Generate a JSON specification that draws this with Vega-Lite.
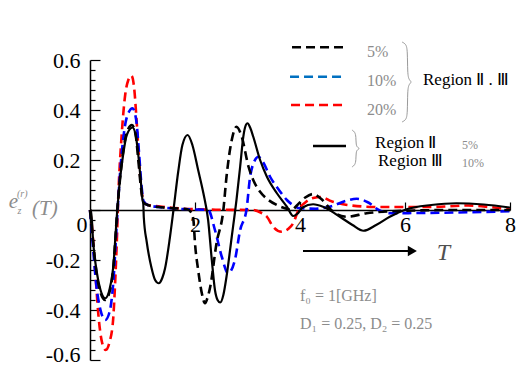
{
  "$schema": "https://vega.github.io/schema/vega-lite/v6.json",
  "width": 420,
  "height": 300,
  "autosize": "none",
  "padding": {"left": 90, "top": 60, "right": 11, "bottom": 7},
  "background": "white",
  "config": {
    "view": {"stroke": null},
    "axis": {"grid": false, "domainColor": "black", "tickColor": "black", "labelColor": "black", "labelFont": "Liberation Serif", "labelFontSize": 22, "title": null}
  },
  "datasets": {
    "curves": [
      {"s":"20%","x":0,"y":0},{"s":"20%","x":0.03,"y":-0.05},{"s":"20%","x":0.095,"y":-0.23},{"s":"20%","x":0.16,"y":-0.42},{"s":"20%","x":0.23,"y":-0.53},{"s":"20%","x":0.3,"y":-0.56},{"s":"20%","x":0.37,"y":-0.53},{"s":"20%","x":0.44,"y":-0.44},{"s":"20%","x":0.47,"y":-0.33},{"s":"20%","x":0.51,"y":-0.13},{"s":"20%","x":0.54,"y":0.06},{"s":"20%","x":0.6,"y":0.29},{"s":"20%","x":0.67,"y":0.46},{"s":"20%","x":0.73,"y":0.52},{"s":"20%","x":0.79,"y":0.537},{"s":"20%","x":0.84,"y":0.49},{"s":"20%","x":0.89,"y":0.35},{"s":"20%","x":0.95,"y":0.15},{"s":"20%","x":1.02,"y":0.033},{"s":"20%","x":1.1,"y":0.02},{"s":"20%","x":1.3,"y":0.015},{"s":"20%","x":1.6,"y":0.008},{"s":"20%","x":2.0,"y":0.003},{"s":"20%","x":2.5,"y":0.001},{"s":"20%","x":3.1,"y":0},{"s":"20%","x":3.25,"y":-0.01},{"s":"20%","x":3.37,"y":-0.027},{"s":"20%","x":3.49,"y":-0.067},{"s":"20%","x":3.65,"y":-0.087},{"s":"20%","x":3.78,"y":-0.075},{"s":"20%","x":3.87,"y":-0.053},{"s":"20%","x":3.97,"y":0},{"s":"20%","x":4.1,"y":0.03},{"s":"20%","x":4.25,"y":0.048},{"s":"20%","x":4.4,"y":0.052},{"s":"20%","x":4.6,"y":0.035},{"s":"20%","x":4.9,"y":0.02},{"s":"20%","x":5.5,"y":0.012},{"s":"20%","x":6.5,"y":0.012},{"s":"20%","x":7.2,"y":0.018},{"s":"20%","x":7.6,"y":0.012},{"s":"20%","x":8,"y":0.002},

      {"s":"10%","x":0,"y":0},{"s":"10%","x":0.05,"y":-0.13},{"s":"10%","x":0.12,"y":-0.3},{"s":"10%","x":0.2,"y":-0.4},{"s":"10%","x":0.29,"y":-0.44},{"s":"10%","x":0.37,"y":-0.41},{"s":"10%","x":0.44,"y":-0.3},{"s":"10%","x":0.52,"y":-0.02},{"s":"10%","x":0.57,"y":0.14},{"s":"10%","x":0.63,"y":0.28},{"s":"10%","x":0.7,"y":0.37},{"s":"10%","x":0.81,"y":0.407},{"s":"10%","x":0.88,"y":0.36},{"s":"10%","x":0.93,"y":0.24},{"s":"10%","x":0.98,"y":0.1},{"s":"10%","x":1.02,"y":0.035},{"s":"10%","x":1.1,"y":0.02},{"s":"10%","x":1.3,"y":0.012},{"s":"10%","x":1.6,"y":0.006},{"s":"10%","x":2.0,"y":0.002},{"s":"10%","x":2.25,"y":0},{"s":"10%","x":2.38,"y":-0.08},{"s":"10%","x":2.51,"y":-0.187},{"s":"10%","x":2.63,"y":-0.253},{"s":"10%","x":2.76,"y":-0.2},{"s":"10%","x":2.86,"y":-0.08},{"s":"10%","x":2.98,"y":0},{"s":"10%","x":3.05,"y":0.133},{"s":"10%","x":3.12,"y":0.19},{"s":"10%","x":3.21,"y":0.213},{"s":"10%","x":3.3,"y":0.19},{"s":"10%","x":3.43,"y":0.133},{"s":"10%","x":3.6,"y":0.08},{"s":"10%","x":3.75,"y":0.04},{"s":"10%","x":3.9,"y":0.015},{"s":"10%","x":4.0,"y":0.007},{"s":"10%","x":4.3,"y":0.005},{"s":"10%","x":4.6,"y":0.015},{"s":"10%","x":4.85,"y":0.035},{"s":"10%","x":5.08,"y":0.045},{"s":"10%","x":5.3,"y":0.03},{"s":"10%","x":5.5,"y":0},{"s":"10%","x":5.71,"y":-0.013},{"s":"10%","x":6.2,"y":-0.012},{"s":"10%","x":7.0,"y":-0.01},{"s":"10%","x":8,"y":-0.005},

      {"s":"5%","x":0,"y":0},{"s":"5%","x":0.06,"y":-0.13},{"s":"5%","x":0.13,"y":-0.26},{"s":"5%","x":0.2,"y":-0.33},{"s":"5%","x":0.29,"y":-0.36},{"s":"5%","x":0.37,"y":-0.33},{"s":"5%","x":0.44,"y":-0.24},{"s":"5%","x":0.52,"y":0},{"s":"5%","x":0.57,"y":0.12},{"s":"5%","x":0.63,"y":0.23},{"s":"5%","x":0.7,"y":0.31},{"s":"5%","x":0.8,"y":0.34},{"s":"5%","x":0.87,"y":0.3},{"s":"5%","x":0.92,"y":0.2},{"s":"5%","x":0.97,"y":0.09},{"s":"5%","x":1.02,"y":0.03},{"s":"5%","x":1.1,"y":0.02},{"s":"5%","x":1.3,"y":0.012},{"s":"5%","x":1.6,"y":0.007},{"s":"5%","x":1.85,"y":0.003},{"s":"5%","x":1.93,"y":-0.01},{"s":"5%","x":1.97,"y":-0.04},{"s":"5%","x":2.0,"y":-0.133},{"s":"5%","x":2.06,"y":-0.24},{"s":"5%","x":2.13,"y":-0.333},{"s":"5%","x":2.19,"y":-0.373},{"s":"5%","x":2.24,"y":-0.35},{"s":"5%","x":2.29,"y":-0.307},{"s":"5%","x":2.41,"y":-0.133},{"s":"5%","x":2.54,"y":0},{"s":"5%","x":2.6,"y":0.133},{"s":"5%","x":2.7,"y":0.28},{"s":"5%","x":2.79,"y":0.333},{"s":"5%","x":2.89,"y":0.293},{"s":"5%","x":3.02,"y":0.173},{"s":"5%","x":3.12,"y":0.115},{"s":"5%","x":3.24,"y":0.073},{"s":"5%","x":3.4,"y":0.04},{"s":"5%","x":3.56,"y":0.02},{"s":"5%","x":3.7,"y":0.008},{"s":"5%","x":3.84,"y":0},{"s":"5%","x":3.95,"y":0.02},{"s":"5%","x":4.1,"y":0.05},{"s":"5%","x":4.25,"y":0.064},{"s":"5%","x":4.4,"y":0.045},{"s":"5%","x":4.63,"y":-0.007},{"s":"5%","x":4.89,"y":-0.027},{"s":"5%","x":5.27,"y":-0.013},{"s":"5%","x":6.03,"y":-0.003},{"s":"5%","x":7.0,"y":0},{"s":"5%","x":8,"y":0},

      {"s":"II/III","x":0,"y":0},{"s":"II/III","x":0.02,"y":0},{"s":"II/III","x":0.06,"y":-0.127},{"s":"II/III","x":0.13,"y":-0.25},{"s":"II/III","x":0.2,"y":-0.32},{"s":"II/III","x":0.29,"y":-0.353},{"s":"II/III","x":0.37,"y":-0.32},{"s":"II/III","x":0.44,"y":-0.233},{"s":"II/III","x":0.52,"y":0},{"s":"II/III","x":0.57,"y":0.12},{"s":"II/III","x":0.63,"y":0.22},{"s":"II/III","x":0.7,"y":0.3},{"s":"II/III","x":0.81,"y":0.33},{"s":"II/III","x":0.87,"y":0.3},{"s":"II/III","x":0.92,"y":0.22},{"s":"II/III","x":0.97,"y":0.11},{"s":"II/III","x":1.0,"y":0.04},{"s":"II/III","x":1.015,"y":0.025},{"s":"II/III","x":1.025,"y":-0.03},{"s":"II/III","x":1.08,"y":-0.127},{"s":"II/III","x":1.17,"y":-0.23},{"s":"II/III","x":1.24,"y":-0.28},{"s":"II/III","x":1.31,"y":-0.293},{"s":"II/III","x":1.38,"y":-0.27},{"s":"II/III","x":1.43,"y":-0.233},{"s":"II/III","x":1.52,"y":-0.113},{"s":"II/III","x":1.59,"y":0},{"s":"II/III","x":1.68,"y":0.153},{"s":"II/III","x":1.76,"y":0.26},{"s":"II/III","x":1.86,"y":0.3},{"s":"II/III","x":1.95,"y":0.26},{"s":"II/III","x":2.06,"y":0.16},{"s":"II/III","x":2.16,"y":0.067},{"s":"II/III","x":2.25,"y":-0.04},{"s":"II/III","x":2.32,"y":-0.2},{"s":"II/III","x":2.38,"y":-0.32},{"s":"II/III","x":2.43,"y":-0.36},{"s":"II/III","x":2.48,"y":-0.37},{"s":"II/III","x":2.54,"y":-0.34},{"s":"II/III","x":2.6,"y":-0.267},{"s":"II/III","x":2.7,"y":-0.107},{"s":"II/III","x":2.79,"y":0.04},{"s":"II/III","x":2.86,"y":0.173},{"s":"II/III","x":2.92,"y":0.293},{"s":"II/III","x":2.96,"y":0.335},{"s":"II/III","x":3.0,"y":0.347},{"s":"II/III","x":3.05,"y":0.33},{"s":"II/III","x":3.11,"y":0.293},{"s":"II/III","x":3.24,"y":0.2},{"s":"II/III","x":3.37,"y":0.133},{"s":"II/III","x":3.56,"y":0.067},{"s":"II/III","x":3.75,"y":0.013},{"s":"II/III","x":3.87,"y":-0.024},{"s":"II/III","x":3.95,"y":-0.015},{"s":"II/III","x":4.05,"y":0.01},{"s":"II/III","x":4.25,"y":0.023},{"s":"II/III","x":4.45,"y":0.012},{"s":"II/III","x":4.76,"y":-0.027},{"s":"II/III","x":5.0,"y":-0.06},{"s":"II/III","x":5.21,"y":-0.083},{"s":"II/III","x":5.45,"y":-0.06},{"s":"II/III","x":5.71,"y":-0.027},{"s":"II/III","x":6.03,"y":0.003},{"s":"II/III","x":6.5,"y":0.02},{"s":"II/III","x":6.98,"y":0.027},{"s":"II/III","x":7.5,"y":0.022},{"s":"II/III","x":8,"y":0.01}
    ],
    "legLines": [
      {"s":"5%","x":3.848,"x2":4.819,"y":0.651},
      {"s":"10%","x":3.81,"x2":4.8,"y":0.533},
      {"s":"20%","x":3.829,"x2":4.819,"y":0.42},
      {"s":"II/III","x":4.248,"x2":4.876,"y":0.256}
    ],
    "braces": [
      {"b":1,"i":0,"x":5.943,"y":0.672},{"b":1,"i":1,"x":6.019,"y":0.664},{"b":1,"i":2,"x":6.048,"y":0.64},{"b":1,"i":3,"x":6.048,"y":0.544},{"b":1,"i":4,"x":6.076,"y":0.52},{"b":1,"i":5,"x":6.133,"y":0.512},{"b":1,"i":6,"x":6.076,"y":0.504},{"b":1,"i":7,"x":6.048,"y":0.48},{"b":1,"i":8,"x":6.048,"y":0.384},{"b":1,"i":9,"x":6.019,"y":0.36},{"b":1,"i":10,"x":5.943,"y":0.352},
      {"b":2,"i":0,"x":4.99,"y":0.32},{"b":2,"i":1,"x":5.048,"y":0.312},{"b":2,"i":2,"x":5.067,"y":0.292},{"b":2,"i":3,"x":5.067,"y":0.26},{"b":2,"i":4,"x":5.095,"y":0.25},{"b":2,"i":5,"x":5.143,"y":0.246},{"b":2,"i":6,"x":5.095,"y":0.242},{"b":2,"i":7,"x":5.067,"y":0.232},{"b":2,"i":8,"x":5.067,"y":0.2},{"b":2,"i":9,"x":5.048,"y":0.18},{"b":2,"i":10,"x":4.99,"y":0.172}
    ],
    "arrow": [{"x":4.057,"x2":6.1,"y":-0.164}],
    "arrowHead": [{"x":6.14,"y":-0.164}],
    "pctBig": [
      {"x":5.276,"y":0.632,"t":"5%"},
      {"x":5.276,"y":0.516,"t":"10%"},
      {"x":5.276,"y":0.4,"t":"20%"}
    ],
    "pctSmall": [
      {"x":7.086,"y":0.26,"t":"5%"},
      {"x":7.086,"y":0.188,"t":"10%"}
    ],
    "regions": [
      {"x":6.343,"y":0.52,"t":"Region Ⅱ . Ⅲ"},
      {"x":5.43,"y":0.268,"t":"Region Ⅱ"},
      {"x":5.486,"y":0.196,"t":"Region Ⅲ"}
    ],
    "tLabel": [{"x":6.733,"y":-0.172,"t":"T"}],
    "notes": [
      {"x":4.0,"y":-0.344,"t":"f₀ = 1[GHz]"},
      {"x":4.0,"y":-0.456,"t":"D₁ = 0.25, D₂ = 0.25"}
    ],
    "yTitleBig": [
      {"x":-1.55,"y":0.008,"t":"e"},
      {"x":-1.105,"y":-0.02,"t":"(T)"}
    ],
    "yTitleSmall": [
      {"x":-1.38,"y":-0.016,"t":"z"},
      {"x":-1.39,"y":0.052,"t":"(r)"}
    ]
  },
  "encoding": {
    "x": {"field": "x", "type": "quantitative", "scale": {"domain": [0, 8], "nice": false, "zero": false},
      "axis": {"orient": "bottom", "offset": -150, "values": [2, 4, 6, 8], "format": "d", "tickSize": -8, "tickWidth": 1.2, "domainWidth": 1.3, "labelPadding": 12, "labelBaseline": "top", "labelFont": "Liberation Serif", "labelFontSize": 22, "labelFlush": false, "labelOverlap": false, "title": null}},
    "y": {"field": "y", "type": "quantitative", "scale": {"domain": [-0.6, 0.6], "nice": false, "zero": false},
      "axis": {
        "values": [-0.6,-0.56,-0.52,-0.48,-0.44,-0.4,-0.36,-0.32,-0.28,-0.24,-0.2,-0.16,-0.12,-0.08,-0.04,0,0.04,0.08,0.12,0.16,0.2,0.24,0.28,0.32,0.36,0.4,0.44,0.48,0.52,0.56,0.6],
        "labelExpr": "abs(datum.value*5 - round(datum.value*5)) < 0.001 ? (datum.value == 0 ? '0' : (datum.value < 0 ? '-' : '') + format(abs(datum.value), '.1f')) : ''",
        "tickSize": {"condition": {"test": "abs(datum.value*5 - round(datum.value*5)) < 0.001", "value": -10}, "value": -5},
        "labelOffset": {"condition": [{"test": "datum.value == 0", "value": 14}, {"test": "datum.value < -0.59", "value": -6}], "value": 0},
        "labelPadding": {"condition": {"test": "datum.value == 0", "value": 13}, "value": 20},
        "labelFont": "Liberation Serif", "labelFontSize": 22,
        "tickWidth": 1.2, "domainWidth": 1.5, "labelOverlap": false, "labelBound": false, "labelFlush": false, "title": null}}
  },
  "layer": [
    {
      "data": {"name": "curves"},
      "transform": [{"filter": "datum.s == '20%'"}],
      "mark": {"type": "line", "color": "#ff0000", "strokeWidth": 2.6, "strokeDash": [9, 5], "interpolate": "monotone"}
    },
    {
      "data": {"name": "curves"},
      "transform": [{"filter": "datum.s == '10%'"}],
      "mark": {"type": "line", "color": "#0000ff", "strokeWidth": 2.6, "strokeDash": [9, 5], "interpolate": "monotone"}
    },
    {
      "data": {"name": "curves"},
      "transform": [{"filter": "datum.s == '5%'"}],
      "mark": {"type": "line", "color": "#000000", "strokeWidth": 2.6, "strokeDash": [9, 5], "interpolate": "monotone"}
    },
    {
      "data": {"name": "curves"},
      "transform": [{"filter": "datum.s == 'II/III'"}],
      "mark": {"type": "line", "color": "#000000", "strokeWidth": 2.2, "interpolate": "monotone"}
    },
    {
      "data": {"name": "legLines"},
      "mark": {"type": "rule", "strokeWidth": 2.6},
      "encoding": {
        "x2": {"field": "x2"},
        "color": {"field": "s", "type": "nominal", "scale": {"domain": ["5%", "10%", "20%", "II/III"], "range": ["#000000", "#0070c0", "#ff0000", "#000000"]}, "legend": null},
        "strokeDash": {"field": "s", "type": "nominal", "scale": {"domain": ["5%", "10%", "20%", "II/III"], "range": [[9, 5], [9, 5], [9, 5], [1, 0]]}, "legend": null}
      }
    },
    {
      "data": {"name": "braces"},
      "mark": {"type": "line", "color": "#9a9a9a", "strokeWidth": 1, "interpolate": "basis"},
      "encoding": {
        "detail": {"field": "b", "type": "nominal"},
        "order": {"field": "i", "type": "quantitative"}
      }
    },
    {
      "data": {"name": "arrow"},
      "mark": {"type": "rule", "color": "#000000", "strokeWidth": 2},
      "encoding": {"x2": {"field": "x2"}}
    },
    {
      "data": {"name": "arrowHead"},
      "mark": {"type": "point", "shape": "triangle-right", "filled": true, "color": "#000000", "size": 110, "opacity": 1}
    },
    {
      "data": {"name": "pctBig"},
      "mark": {"type": "text", "align": "left", "baseline": "middle", "font": "Liberation Serif", "fontSize": 16, "color": "#8c8c8c"},
      "encoding": {"text": {"field": "t"}}
    },
    {
      "data": {"name": "pctSmall"},
      "mark": {"type": "text", "align": "left", "baseline": "middle", "font": "Liberation Serif", "fontSize": 12, "color": "#8c8c8c"},
      "encoding": {"text": {"field": "t"}}
    },
    {
      "data": {"name": "regions"},
      "mark": {"type": "text", "align": "left", "baseline": "middle", "font": "Liberation Serif", "fontSize": 17, "color": "#000000"},
      "encoding": {"text": {"field": "t"}}
    },
    {
      "data": {"name": "tLabel"},
      "mark": {"type": "text", "align": "center", "baseline": "middle", "font": "Liberation Serif", "fontSize": 24, "fontStyle": "italic", "color": "#505050"},
      "encoding": {"text": {"field": "t"}}
    },
    {
      "data": {"name": "notes"},
      "mark": {"type": "text", "align": "left", "baseline": "middle", "font": "Liberation Serif", "fontSize": 16, "color": "#8c8c8c"},
      "encoding": {"text": {"field": "t"}}
    },
    {
      "data": {"name": "yTitleBig"},
      "mark": {"type": "text", "align": "left", "baseline": "alphabetic", "font": "Liberation Serif", "fontSize": 21, "fontStyle": "italic", "color": "#8c8c8c"},
      "encoding": {"text": {"field": "t"}}
    },
    {
      "data": {"name": "yTitleSmall"},
      "mark": {"type": "text", "align": "left", "baseline": "alphabetic", "font": "Liberation Serif", "fontSize": 10, "fontStyle": "italic", "color": "#8c8c8c"},
      "encoding": {"text": {"field": "t"}}
    }
  ]
}
